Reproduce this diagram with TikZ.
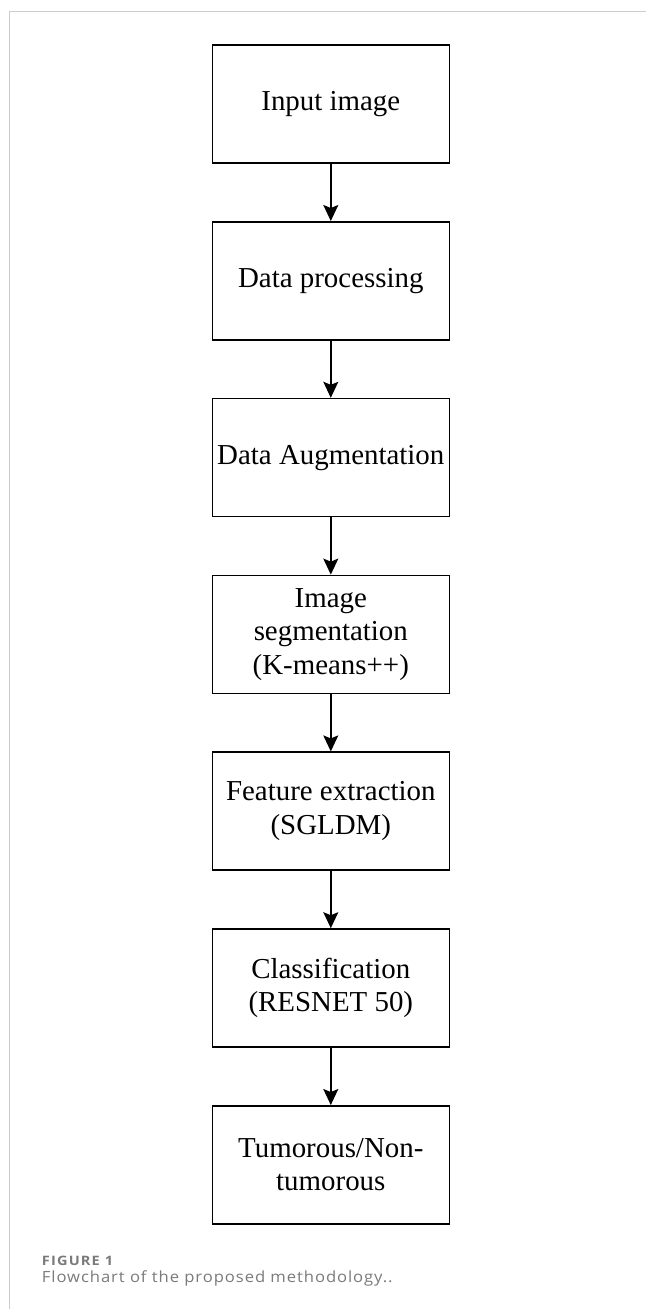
\documentclass[tikz,border=0pt]{standalone}
\usepackage{fontspec}
\setmainfont{Liberation Serif}
\newfontfamily\capfont[FakeStretch=1.08, LetterSpace=6]{Open Sans}
\newfontfamily\caplabelfont[FakeStretch=1.12, LetterSpace=9]{Open Sans}
\usetikzlibrary{arrows.meta}
\definecolor{framegray}{HTML}{CCCCCC}
\definecolor{capgray}{HTML}{7A7A7A}
\tikzset{
  stepbox/.style={draw=black, line width=1.6pt, minimum width=237pt, minimum height=118pt,
    inner sep=0pt, align=center, font=\fontsize{28.9}{33.5}\selectfont},
  flowarrow/.style={line width=1.4pt, -{Stealth[length=16pt, width=15pt, inset=3pt]}},
  framelinestyle/.style={draw=framegray, line width=1.4pt}
}
\begin{document}
\begin{tikzpicture}[x=1pt, y=-1pt]
  \useasboundingbox (0,0) rectangle (646,1309);
  % page frame (top and left rules)
  \coordinate (ftr) at (646,11.7);
  \coordinate (fc) at (9.3,11.7);
  \coordinate (fbl) at (9.3,1309);
  \draw[framelinestyle] (ftr) -- (fc) -- (fbl);

  % process steps
  \node[stepbox] (s1) at (330.8,104.0) {Input image};
  \node[stepbox] (s2) at (330.8,280.8) {Data processing};
  \node[stepbox] (s3) at (330.8,457.6) {Data Augmentation};
  \node[stepbox] (s4) at (330.8,634.4) {Image\\segmentation\\(K-means++)};
  \node[stepbox] (s5) at (330.8,811.2) {Feature extraction\\(SGLDM)};
  \node[stepbox] (s6) at (330.8,988.0) {Classification\\(RESNET 50)};
  \node[stepbox] (s7) at (330.8,1164.8) {Tumorous/Non-\\tumorous};

  \draw[flowarrow] (s1) -- (s2);
  \draw[flowarrow] (s2) -- (s3);
  \draw[flowarrow] (s3) -- (s4);
  \draw[flowarrow] (s4) -- (s5);
  \draw[flowarrow] (s5) -- (s6);
  \draw[flowarrow] (s6) -- (s7);

  % caption
  \node[anchor=base west, inner sep=0pt, text=capgray, font=\caplabelfont\bfseries\fontsize{13}{15}\selectfont]
    (figlabel) at (41.7,1265) {FIGURE 1};
  \node[anchor=base west, inner sep=0pt, text=capgray, font=\capfont\fontsize{15.4}{18}\selectfont]
    (figtext) at (41.7,1282.7) {Flowchart of the proposed methodology..};
\end{tikzpicture}
\end{document}
